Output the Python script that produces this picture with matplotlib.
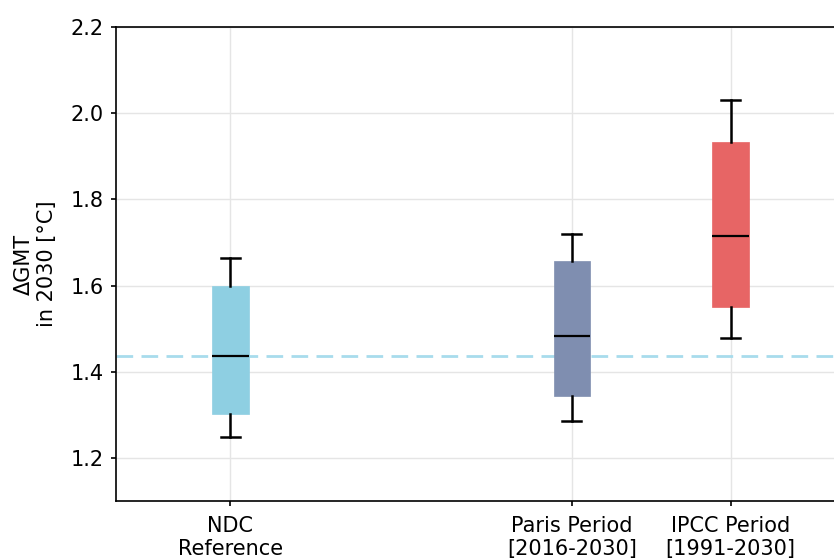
import matplotlib
matplotlib.use('Agg')
import matplotlib.pyplot as plt

labels = ['NDC\nReference', 'Paris Period\n[2016-2030]', 'IPCC Period\n[1991-2030]']
whislo = [1.249, 1.286, 1.478]
q1 = [1.301, 1.344, 1.550]
med = [1.436, 1.482, 1.715]
q3 = [1.600, 1.658, 1.934]
whishi = [1.664, 1.720, 2.030]
colors = ['#8ecfe2', '#7f8eb0', '#e76565']
ref_line = med[0]

positions = [0, 2.15, 3.15]

fig = plt.figure(figsize=(8.34, 5.59), dpi=100)
ax = fig.add_axes([0.139, 0.1038, 0.88, 0.8479])

stats = []
for i in range(len(labels)):
    stats.append({'whislo': whislo[i], 'q1': q1[i], 'med': med[i],
                  'q3': q3[i], 'whishi': whishi[i], 'fliers': []})

bp = ax.bxp(stats, positions=positions, widths=0.23, patch_artist=True,
            showfliers=False,
            medianprops=dict(color='black', linewidth=1.6),
            whiskerprops=dict(color='black', linewidth=1.8),
            capprops=dict(color='black', linewidth=1.8),
            capwidths=0.12, zorder=3)
for patch, c in zip(bp['boxes'], colors):
    patch.set_facecolor(c)
    patch.set_edgecolor(c)
    patch.set_linewidth(0.5)

ax.axhline(ref_line, color='#a8dcec', linestyle='--', linewidth=2, dashes=(6, 3), zorder=2)

ax.set_xlim(-0.72, 3.9)
ax.set_ylim(1.1, 2.2)
ax.set_yticks([1.2, 1.4, 1.6, 1.8, 2.0, 2.2])
ax.set_xticks(positions)
ax.set_xticklabels(labels)
ax.grid(True, color='#e5e5e5', linewidth=1, zorder=0)
ax.set_axisbelow(True)
ax.tick_params(labelsize=15, width=1.2)
ax.tick_params(axis='x', pad=7)
ax.tick_params(axis='y', pad=5)
ax.set_ylabel('ΔGMT\nin 2030 [°C]', fontsize=15, labelpad=10)
ax.spines['right'].set_visible(False)
for s in ['left', 'top', 'bottom']:
    ax.spines[s].set_linewidth(1.2)

fig.savefig('out.png', dpi=100)
